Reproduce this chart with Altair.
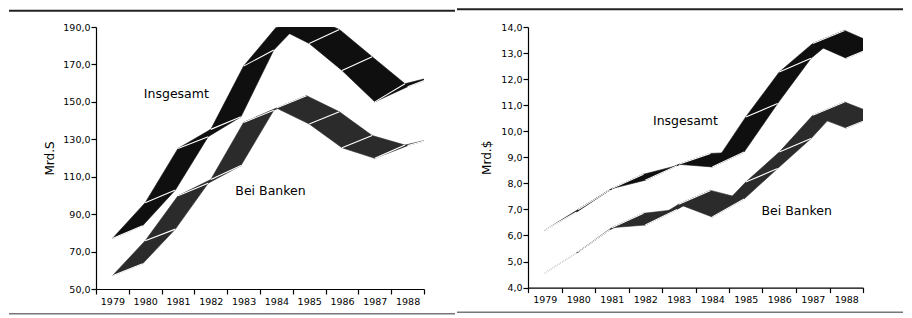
import altair as alt
import pandas as pd

# ---------------- data ----------------
years = [1979, 1980, 1981, 1982, 1983, 1984, 1985, 1986, 1987, 1988]

# left panel (Mrd. S): front edge and back edge of each ribbon
s_total_front = [77.0, 96.1, 125.1, 135.3, 169.1, 190.0, 181.2, 166.8, 150.0, 158.1]
s_total_back = [83.8, 102.9, 131.4, 142.0, 177.7, 196.0, 188.7, 174.1, 159.7, 164.0]
s_bank_front = [57.1, 75.8, 99.8, 108.5, 139.0, 146.7, 138.2, 125.5, 119.8, 126.6]
s_bank_back = [63.5, 82.0, 106.5, 116.0, 145.5, 153.3, 144.7, 132.0, 126.9, 131.0]

# right panel (Mrd. $)
d_total_front = [6.2, 7.0, 7.8, 8.12, 8.73, 8.63, 10.55, 12.27, 13.37, 12.8]
d_total_back = [6.9, 7.75, 8.35, 8.68, 9.15, 9.2, 11.06, 12.8, 13.87, 13.3]
d_bank_front = [4.56, 5.37, 6.3, 6.4, 7.2, 6.71, 8.05, 9.2, 10.61, 10.12]
d_bank_back = [5.33, 6.22, 6.85, 7.0, 7.73, 7.4, 8.57, 9.72, 11.12, 10.62]

left_ticks = [50, 70, 90, 110, 130, 150, 170, 190]
right_ticks = [4, 5, 6, 7, 8, 9, 10, 11, 12, 13, 14]
left_title = "Mrd.S"
right_title = "Mrd.$"

# label anchor positions (year, value)
left_labels = [("Insgesamt", 1980.95, 154.4), ("Bei Banken", 1983.82, 102.5)]
right_labels = [("Insgesamt", 1983.2, 10.38), ("Bei Banken", 1986.52, 6.94)]

FONT = "DejaVu Sans"
COL_TOTAL = "#0f0f0f"
COL_BANK = "#2b2b2b"


def ribbon_rows(name, front, back, depth):
    rows = []
    for i in range(len(years) - 1):
        pts = [
            (years[i], front[i]),
            (years[i + 1], front[i + 1]),
            (years[i + 1] + depth, back[i + 1]),
            (years[i] + depth, back[i]),
        ]
        for k, (x, y) in enumerate(pts):
            rows.append({"series": name, "seg": f"{name}-{i}", "ord": k, "x": x, "y": y})
    return pd.DataFrame(rows)


def edge_rows(front, back, depth):
    return pd.DataFrame(
        [{"x": years[i], "y": front[i], "x2": years[i] + depth, "y2": back[i]} for i in range(len(years))]
    )


def panel(tf, tb, bf, bb, depth, ydom, yticks, ytitle, width, height, labels, frame, title_pad):
    xenc = alt.X(
        "x:Q",
        scale=alt.Scale(domain=[1978.5, 1988.5], nice=False, zero=False),
        axis=alt.Axis(
            values=[1978.5 + i for i in range(11)],
            labelExpr="datum.value > 1988 ? '' : format(datum.value + 0.5, 'd')",
            labelOffset=width / 20.0,
            labelOverlap=False,
            labelFlush=False,
            labelBound=False,
            labelPadding=2,
            grid=False,
            title=None,
        ),
    )
    yenc = alt.Y(
        "y:Q",
        scale=alt.Scale(domain=ydom, nice=False, zero=False),
        axis=alt.Axis(
            values=yticks,
            labelExpr="replace(format(datum.value, '.1f'), '.', ',')",
            grid=False,
            title=ytitle,
            titlePadding=title_pad,
            labelPadding=1,
        ),
    )
    layers = []
    for name, f, b, col in [("Bei Banken", bf, bb, COL_BANK), ("Insgesamt", tf, tb, COL_TOTAL)]:
        layers.append(
            alt.Chart(ribbon_rows(name, f, b, depth))
            .mark_line(interpolate="linear-closed", fill=col, stroke=col, strokeWidth=0.6, clip=True)
            .encode(x=xenc, y=yenc, detail="seg:N", order="ord:Q")
        )
        layers.append(
            alt.Chart(edge_rows(f, b, depth))
            .mark_rule(color="white", strokeWidth=1.1, clip=True)
            .encode(x=xenc, y=yenc, x2="x2:Q", y2="y2:Q")
        )
    lab = pd.DataFrame([{"t": t, "x": x, "y": y} for t, x, y in labels])
    layers.append(
        alt.Chart(lab)
        .mark_text(font=FONT, fontSize=12.5, color="black", align="center", baseline="middle")
        .encode(x=xenc, y=yenc, text="t:N")
    )
    fx0, fx1, fy0, fy1 = frame
    dummy = alt.Data(values=[{"a": 1}])
    layers.append(
        alt.Chart(dummy).mark_rule(color="#222222", strokeWidth=2).encode(
            x=alt.value(fx0), x2=alt.value(fx1), y=alt.value(fy0), y2=alt.value(fy0)
        )
    )
    layers.append(
        alt.Chart(dummy).mark_rule(color="#777777", strokeWidth=1.5).encode(
            x=alt.value(fx0), x2=alt.value(fx1), y=alt.value(fy1), y2=alt.value(fy1)
        )
    )
    return alt.layer(*layers).properties(width=width, height=height)


left = panel(
    s_total_front, s_total_back, s_bank_front, s_bank_back, 0.92,
    [50, 190], left_ticks, left_title, 328, 262, left_labels,
    (-87, 359, -16.3, 286.7), 6,
)
right = panel(
    d_total_front, d_total_back, d_bank_front, d_bank_back, 0.95,
    [4, 14], right_ticks, right_title, 335, 260.6, right_labels,
    (-71, 375, -17.7, 285.3), 7,
)

chart = (
    alt.hconcat(left, right, spacing=0)
    .properties(padding=0, background="white")
    .configure_view(strokeOpacity=0)
    .configure_axis(
        domainColor="black",
        domainWidth=1.2,
        tickColor="black",
        tickWidth=1.2,
        tickSize=5,
        labelColor="black",
        labelFont=FONT,
        labelFontSize=9.5,
        titleFont=FONT,
        titleFontSize=12,
        titleFontWeight="normal",
        titleColor="black",
    )
)

chart.save("out.html", embed_options={"renderer": "svg", "actions": False})
